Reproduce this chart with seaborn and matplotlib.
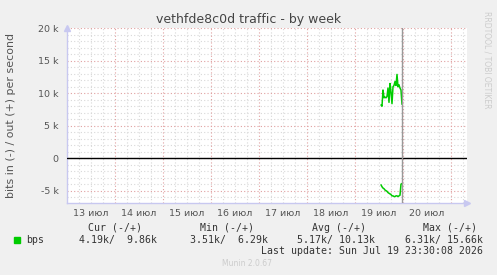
import numpy as np
import pandas as pd
import matplotlib
matplotlib.use("Agg")
import matplotlib.pyplot as plt
import seaborn as sns

# ---- data ----
day_labels = ["13 июл", "14 июл", "15 июл", "16 июл", "17 июл", "18 июл", "19 июл", "20 июл"]
# hours since 13 Jul 00:00, one sample every 30 min
sample_hours = [157.0, 157.5, 158.0, 158.5, 159.0, 159.5, 160.0, 160.5, 161.0, 161.5, 162.0,
                162.5, 163.0, 163.5, 164.0, 164.5, 165.0, 165.5, 166.0, 166.5, 167.0, 167.5]
out_bps = [8200, 8000, 10500, 9300, 9400, 9300, 9500, 10800, 8600, 11500, 10200,
           8400, 11000, 11200, 11800, 11200, 12900, 11000, 11300, 10800, 10500, 8300]
in_bps = [4100, 4400, 4600, 4700, 4900, 5000, 5100, 5300, 5400, 5500, 5600,
          5800, 5800, 5900, 5900, 5800, 5800, 5900, 5800, 5700, 4000, 3900]
now_hour = 167.5
y_ticks = [-5000, 0, 5000, 10000, 15000, 20000]
y_tick_labels = ["-5 k", "0", "5 k", "10 k", "15 k", "20 k"]
legend_header = ["Cur (-/+)", "Min (-/+)", "Avg (-/+)", "Max (-/+)"]
legend_values = ["4.19k/  9.86k", "3.51k/  6.29k", "5.17k/ 10.13k", "6.31k/ 15.66k"]
title = "vethfde8c0d traffic - by week"
ylabel = "bits in (-) / out (+) per second"
last_update = "Last update: Sun Jul 19 23:30:08 2026"

df = pd.DataFrame({"hour": sample_hours, "out": out_bps,
                   "in": [-v for v in in_bps]})

# ---- figure ----
sns.set_theme(style="white")
plt.rcParams["font.family"] = ["DejaVu Sans"]
W, H = 497, 275
fig = plt.figure(figsize=(W / 100, H / 100), dpi=100, facecolor="#F0F0F0")
ax = fig.add_axes([67 / W, (H - 203) / H, 400 / W, 175 / H])
ax.set_facecolor("white")

xmax = 200.0
ax.set_xlim(0, xmax)
ax.set_ylim(-6900, 20050)

# grid
for h in np.arange(0, xmax + 0.1, 6):
    if h % 24 == 0:
        continue
    ax.axvline(h, color="#D8D8D8", lw=0.8, ls=(0, (1, 2)), zorder=1)
for v in np.arange(-6000, 20001, 1000):
    if v % 5000 == 0:
        continue
    ax.axhline(v, color="#D8D8D8", lw=0.8, ls=(0, (1, 2)), zorder=1)
for h in np.arange(24, xmax, 24):
    ax.axvline(h, color="#E0A0A0", lw=0.8, ls=(0, (1, 2)), zorder=1.5)
for v in y_ticks:
    ax.axhline(v, color="#E0A0A0", lw=0.8, ls=(0, (1, 2)), zorder=1.5)

ax.axhline(0, color="black", lw=1.0, zorder=3)

sns.lineplot(data=df, x="hour", y="out", ax=ax, color="#00CC00", lw=1.1, zorder=4)
sns.lineplot(data=df, x="hour", y="in", ax=ax, color="#00CC00", lw=1.1, zorder=4)

ax.axvline(now_hour, color="#999999", lw=1.0, zorder=5)

for s in ["top", "right"]:
    ax.spines[s].set_visible(False)
for s in ["left", "bottom"]:
    ax.spines[s].set_color("#C8C8F0")
    ax.spines[s].set_linewidth(1.0)
# axis arrows
ax.plot([1], [0], marker=">", color="#C8C8F0", ms=4, transform=ax.transAxes, clip_on=False)
ax.plot([0], [1], marker="^", color="#C8C8F0", ms=4, transform=ax.transAxes, clip_on=False)

ax.set_yticks(y_ticks)
ax.set_yticklabels(y_tick_labels)
label_pos = [12 + 24 * i for i in range(len(day_labels))]
ax.set_xticks(label_pos)
ax.set_xticklabels(day_labels)
ax.tick_params(axis="both", length=0, labelsize=6.8, labelcolor="#555555", pad=4)
ax.tick_params(axis="y", pad=6)
ax.set_xlabel("")
ax.set_ylabel("")

fig.text(11 / W, 1 - 115 / H, ylabel, rotation=90, ha="center", va="center",
         fontsize=7.9, color="#555555")
fig.text(249 / W, 1 - 19 / H, title, ha="center", va="center", fontsize=9.0, color="#444444")
fig.text(487 / W, 1 - 60 / H, "RRDTOOL / TOBI OETIKER", rotation=270, ha="center", va="center",
         fontsize=5.5, color="#CCCCCC")
fig.text(247 / W, 1 - 264 / H, "Munin 2.0.67", ha="center", va="center", fontsize=5.5,
         color="#CCCCCC")

mono = "DejaVu Sans Mono"
fs = 7.1
head_right = [142, 254, 366, 477]
val_right = [157, 268, 375, 483]
for h, x in zip(legend_header, head_right):
    fig.text(x / W, 1 - 228 / H, h, ha="right", va="center", fontsize=fs, family=mono, color="#333333")
for v, x in zip(legend_values, val_right):
    fig.text(x / W, 1 - 240 / H, v, ha="right", va="center", fontsize=fs, family=mono, color="#333333")
fig.patches.append(plt.Rectangle((14 / W, 1 - 243 / H), 6 / W, 6 / H, transform=fig.transFigure,
                                 color="#00CC00"))
fig.text(26.5 / W, 1 - 240 / H, "bps", ha="left", va="center", fontsize=fs, family=mono, color="#333333")
fig.text(483 / W, 1 - 251 / H, last_update, ha="right", va="center", fontsize=fs, family=mono,
         color="#333333")

fig.savefig("out.png", dpi=100, facecolor=fig.get_facecolor())
